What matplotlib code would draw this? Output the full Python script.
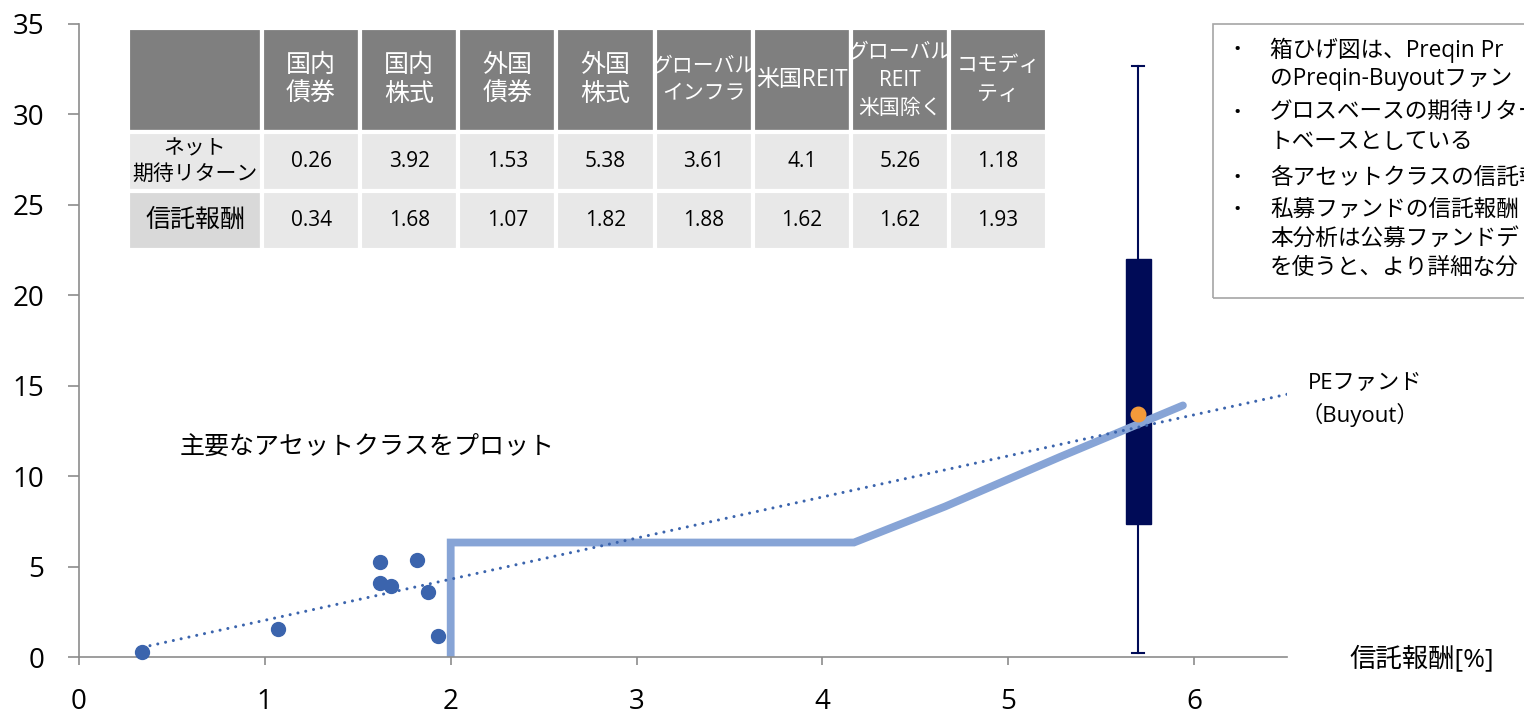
import matplotlib
matplotlib.use('Agg')
import matplotlib.pyplot as plt
import numpy as np

plt.rcParams['font.family'] = ['Open Sans', 'Noto Sans CJK JP', 'DejaVu Sans']

# asset classes: fee (x) vs net expected return (y)
asset_names = ['国内\n債券', '国内\n株式', '外国\n債券', '外国\n株式', 'グローバル\nインフラ',
               '米国REIT', 'グローバル\nREIT\n米国除く', 'コモディ\nティ']
net_return = [0.26, 3.92, 1.53, 5.38, 3.61, 4.1, 5.26, 1.18]
trust_fee = [0.34, 1.68, 1.07, 1.82, 1.88, 1.62, 1.62, 1.93]

# PE (Buyout) fund distribution
pe_fee = 5.7
pe_box = {'whislo': 0.22, 'q1': 7.35, 'med': 13.45, 'q3': 22.0, 'whishi': 32.7}
pe_point = 13.45

# required-return curve
curve_x = [2.0, 2.0, 4.17, 4.66, 5.28, 5.94]
curve_y = [0.0, 6.33, 6.33, 8.32, 11.07, 13.91]

note_lines = ['箱ひげ図は、Preqin Pr',
              'のPreqin-Buyoutファン',
              'グロスベースの期待リター',
              'トベースとしている',
              '各アセットクラスの信託報',
              '私募ファンドの信託報酬',
              '本分析は公募ファンドデ',
              'を使うと、より詳細な分']
note_bullet = [True, False, True, False, True, True, False, False]

W, H = 1524, 718
fig = plt.figure(figsize=(W / 100, H / 100), dpi=100)
ax = fig.add_axes([79 / W, (H - 657) / H, (1287 - 79) / W, (657 - 24) / H])

blue = '#3B64AD'
ax.plot(curve_x, curve_y, color='#87A4D6', lw=5.6, solid_capstyle='round',
        solid_joinstyle='miter', zorder=2)

# linear trend of the asset classes
coef = np.polyfit(trust_fee, net_return, 1)
tx = np.array([min(trust_fee), 6.5])
ax.plot(tx, np.polyval(coef, tx), color=blue, lw=2.2, ls=(0, (0.01, 2.6)),
        dash_capstyle='round', zorder=3)

ax.scatter(trust_fee, net_return, s=100, color=blue, zorder=4, clip_on=False)

navy = '#000B57'
ax.bxp([dict(pe_box, fliers=[])], positions=[pe_fee], widths=0.135, capwidths=0.065,
       patch_artist=True, showfliers=False, manage_ticks=False,
       boxprops=dict(facecolor=navy, edgecolor=navy, lw=1),
       whiskerprops=dict(color=navy, lw=1.5), capprops=dict(color=navy, lw=1.5),
       medianprops=dict(color=navy, lw=0), zorder=1)
ax.scatter([pe_fee], [pe_point], s=110, color='#F39A3A', zorder=5)

ax.set_xlim(0, 6.5)
ax.set_ylim(0, 35)
ax.set_xticks(range(0, 7))
ax.set_yticks(range(0, 36, 5))
for side in ['top', 'right']:
    ax.spines[side].set_visible(False)
for side in ['left', 'bottom']:
    ax.spines[side].set_color('#8C8C8C')
    ax.spines[side].set_linewidth(1.2)
ax.tick_params(axis='y', direction='out', length=8, width=1.2, color='#8C8C8C',
               labelsize=20, pad=17)
ax.tick_params(axis='x', direction='out', length=6, width=1.2, color='#8C8C8C',
               labelsize=20, pad=16)

ax.text(0.54, 11.6, '主要なアセットクラスをプロット', fontsize=18, va='center', ha='left')
fig.text(1349 / W, (H - 659) / H, '信託報酬[%]', fontsize=19, va='center', ha='left')
fig.text(1308 / W, (H - 384) / H, 'PEファンド', fontsize=16, va='center', ha='left')
fig.text(1300 / W, (H - 415) / H, '（Buyout）', fontsize=16, va='center', ha='left')

# notes box on the right (runs past the figure edge)
fig.patches.append(plt.Rectangle((1213 / W, (H - 298) / H), 400 / W, 274 / H,
                                 transform=fig.transFigure, fill=False,
                                 edgecolor='#A6A6A6', lw=1.2))
line_y = [50, 79, 113, 142, 178, 210, 239, 268]
for txt, bul, yy in zip(note_lines, note_bullet, line_y):
    if bul:
        fig.text(1237 / W, (H - yy) / H, '•', fontsize=14, va='center', ha='center')
    fig.text(1270 / W, (H - yy) / H, txt, fontsize=16.3, va='center', ha='left')

# table of asset classes
tax = fig.add_axes([128 / W, (H - 250) / H, (1047 - 128) / W, 222 / H])
tax.axis('off')
cell_text = [[''] + asset_names,
             ['ネット\n期待リターン'] + [f'{v:g}' for v in net_return],
             ['信託報酬'] + [f'{v:.2f}' for v in trust_fee]]
colors = [['#7F7F7F'] * 9,
          ['#E8E8E8'] * 9,
          ['#D9D9D9'] + ['#E8E8E8'] * 8]
col_w = [134] + [98.1] * 8
tbl = tax.table(cellText=cell_text, cellColours=colors, colWidths=col_w,
                cellLoc='center', bbox=[0, 0, 1, 1])
tbl.auto_set_font_size(False)
row_h = [104, 59, 59]
# header sizes: kanji cells larger, long katakana cells smaller
head_size = [18, 18, 18, 18, 18, 15, 16.5, 15, 15]
for (r, c), cell in tbl.get_celld().items():
    cell.set_height(row_h[r])
    cell.set_edgecolor('white')
    cell.set_linewidth(3)
    t = cell.get_text()
    if r == 0:
        size = head_size[c]
        t.set_color('white')
        t.set_linespacing(30 / (size * 1.389))
    elif c == 0:
        size = 15 if r == 1 else 18
        t.set_linespacing(27 / (size * 1.389))
    else:
        size = 15
    t.set_fontsize(size)

fig.savefig('out.png', dpi=100)
